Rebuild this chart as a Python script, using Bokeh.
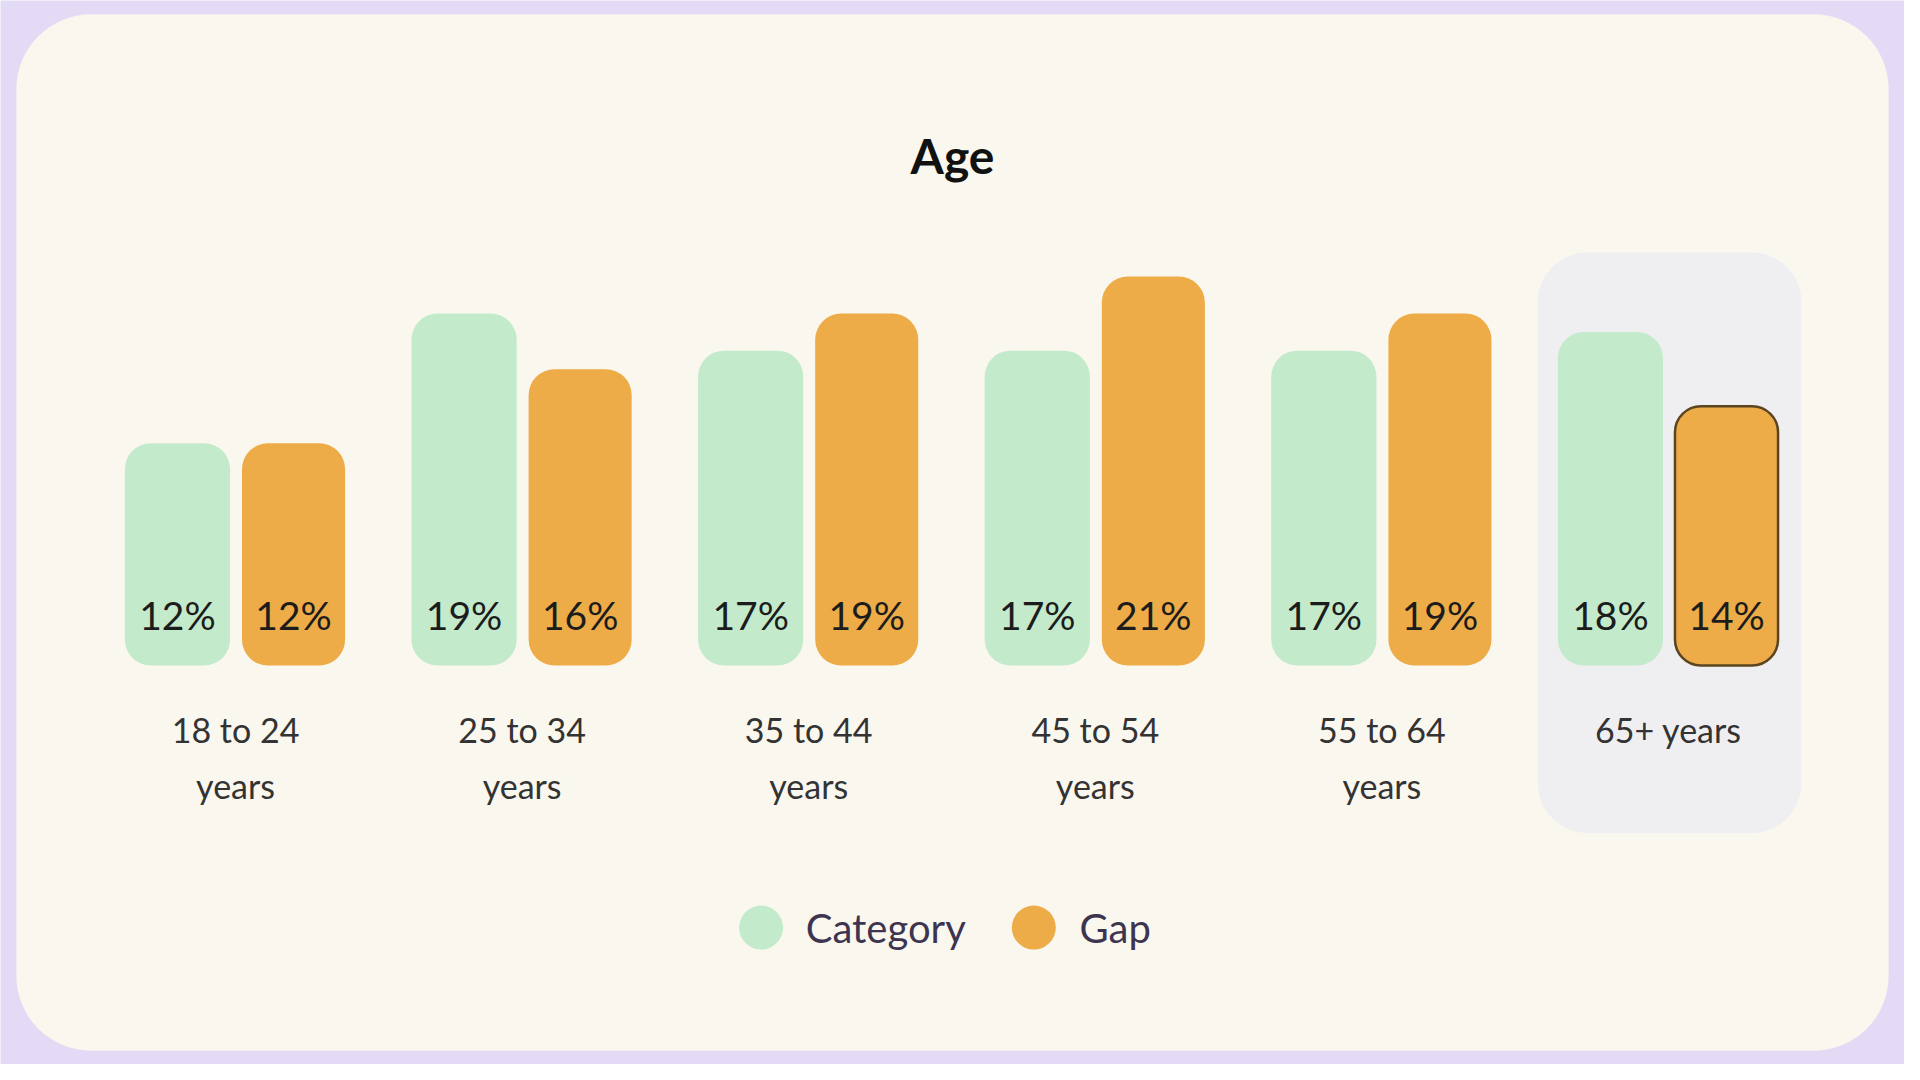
from bokeh.plotting import figure
from bokeh.models import Range1d, BoxAnnotation, Label, ColumnDataSource
from bokeh.core.properties import value
from bokeh.embed import file_html
from bokeh.resources import INLINE

# ---- data ----
categories = ["18 to 24\nyears", "25 to 34\nyears", "35 to 44\nyears",
              "45 to 54\nyears", "55 to 64\nyears", "65+ years"]
category_share = [12, 19, 17, 17, 17, 18]
gap_share = [12, 16, 19, 21, 19, 14]
series_names = ["Category", "Gap"]
highlight_index = 5
title_text = "Age"

# ---- layout (measured on a 1920x1080 design, scaled to the figure) ----
W, H = 1904, 1064
SX, SY = W / 1920.0, H / 1080.0
PX_X = 289.0 * SX        # pixels per group
PX_Y = 18.8 * SY         # pixels per percent point
ORIGIN_X = 237.0 * SX    # px from left to first group centre
BASE_TOP = 675.0 * SY    # px from top to the 0% baseline

FONT = "Lato"
GREEN = "#c3eacb"
ORANGE = "#edac48"
PURPLE = "#e3dbf5"
CARD = "#faf7ef"
HILITE = "#efeff2"

x_range = Range1d(-ORIGIN_X / PX_X, (W - ORIGIN_X) / PX_X)
y_range = Range1d(-(H - BASE_TOP) / PX_Y, BASE_TOP / PX_Y)


def px_to_x(px):
    return x_range.start + px * SX / PX_X


def py_to_y(py):
    return (BASE_TOP - py * SY) / PX_Y


p = figure(width=W, height=H, x_range=x_range, y_range=y_range,
           output_backend="svg", toolbar_location=None, tools="",
           min_border=0)
p.axis.visible = False
p.grid.visible = False
p.outline_line_color = None
p.background_fill_color = PURPLE
p.border_fill_color = PURPLE

# card
card = BoxAnnotation(left=16 * SX, right=1904 * SX,
                     top=H - 14 * SY, bottom=H - 1066 * SY,
                     left_units="screen", right_units="screen",
                     top_units="screen", bottom_units="screen",
                     fill_color=CARD, fill_alpha=1, line_color=None,
                     border_radius=75, level="underlay")
p.add_layout(card)

# highlight panel behind the last group
p.vbar(x=[highlight_index + 0.004], width=0.92, top=[22.3], bottom=[-9.05],
       fill_color=HILITE, line_color=None, border_radius=50)

idx = list(range(len(categories)))
OFF = 0.2025
BW = 0.367

src_c = ColumnDataSource(dict(x=[i - OFF for i in idx], top=category_share,
                              label=[f"{v}%" for v in category_share]))
src_g = ColumnDataSource(dict(
    x=[i + OFF for i in idx], top=gap_share,
    label=[f"{v}%" for v in gap_share],
    lc=["#5b4520" if i == highlight_index else ORANGE for i in idx],
    lw=[2.5 if i == highlight_index else 0.0 for i in idx]))

p.vbar(x="x", top="top", bottom=0, width=BW, source=src_c,
       fill_color=GREEN, line_color=None, border_radius=26)
p.vbar(x="x", top="top", bottom=0, width=BW * 0.98, source=src_g,
       fill_color=ORANGE, line_color="lc", line_width="lw", border_radius=26)

for src in (src_c, src_g):
    p.text(x="x", y=0, text="label", source=src, text_align="center",
           text_baseline="middle", y_offset=-51,
           text_font=value(FONT), text_font_size="39px", text_color="#1c1c1c")

# category labels, one glyph per text line
line1 = [c.split("\n")[0] for c in categories]
line2 = [c.split("\n")[1] if "\n" in c else "" for c in categories]
src_l = ColumnDataSource(dict(x=idx, l1=line1, l2=line2))
for col, off in (("l1", 64), ("l2", 120)):
    p.text(x="x", y=0, text=col, source=src_l, text_align="center",
           text_baseline="middle", y_offset=off,
           text_font=value(FONT), text_font_size="34px", text_color="#333333")

# title
p.add_layout(Label(x=960 * SX, y=H - 157 * SY, x_units="screen", y_units="screen",
                   text=title_text, text_align="center",
                   text_baseline="middle", text_font=FONT,
                   text_font_size="48px", text_font_style="bold",
                   text_color="#111111"))

# legend (manual, circles + text)
leg_y = py_to_y(941)
p.scatter(x=[px_to_x(767), px_to_x(1042)], y=[leg_y, leg_y], size=44,
          marker="circle", fill_color=[GREEN, ORANGE], line_color=None)
p.text(x=[px_to_x(812), px_to_x(1088)], y=[leg_y, leg_y], text=series_names,
       text_align="left", text_baseline="middle",
       text_font=value(FONT), text_font_size="40px", text_color="#3d3550")

open("out.html", "w").write(file_html(p, INLINE))
